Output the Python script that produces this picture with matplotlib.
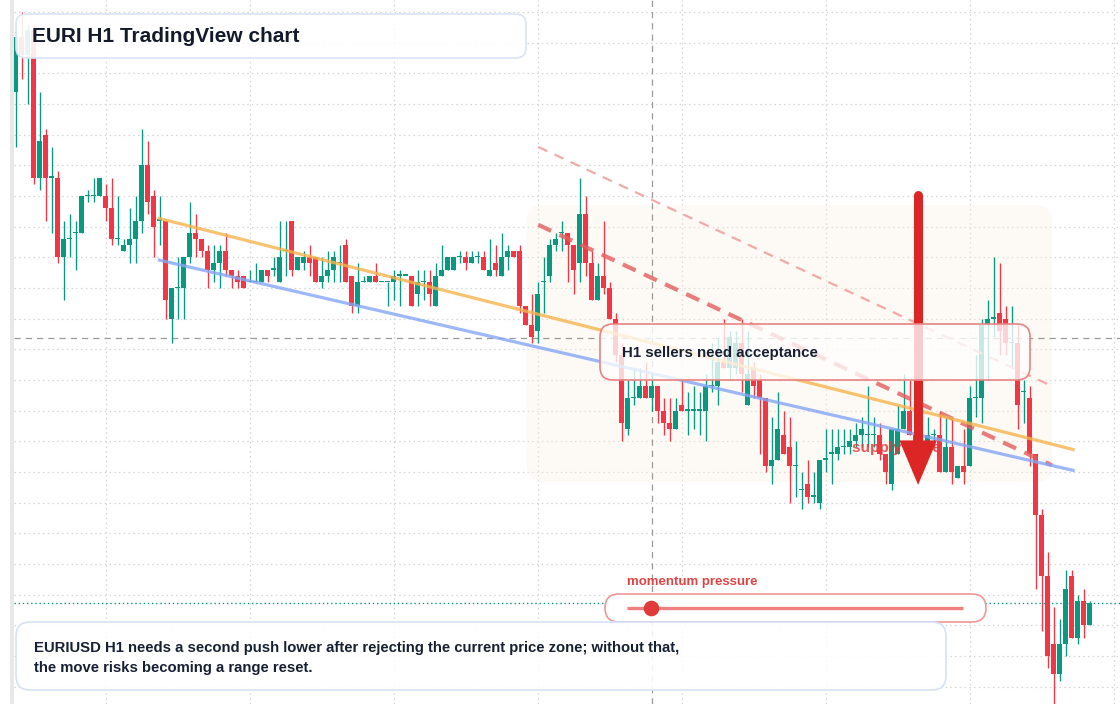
import numpy as np
import matplotlib
matplotlib.use('Agg')
import matplotlib.pyplot as plt
from matplotlib.patches import FancyBboxPatch, Rectangle

plt.rcParams['font.family'] = ['Liberation Sans', 'DejaVu Sans']

# --- EURI H1 candles ---
opens = [
    1.0887, 1.0896, 1.0893, 1.0897, 1.0873, 1.0880, 1.0873, 1.0873, 1.0860, 1.0863,
    1.0864, 1.0864, 1.0870, 1.0870, 1.0870, 1.0870, 1.0868, 1.0863, 1.0861, 1.0862,
    1.0863, 1.0866, 1.0875, 1.0870, 1.0866, 1.0866, 1.0850, 1.0855, 1.0855, 1.0860,
    1.0864, 1.0863, 1.0861, 1.0858, 1.0859, 1.0861, 1.0858, 1.0857, 1.0857, 1.0856,
    1.0856, 1.0856, 1.0858, 1.0858, 1.0856, 1.0861, 1.0866, 1.0858, 1.0859, 1.0860,
    1.0860, 1.0856, 1.0857, 1.0858, 1.0859, 1.0862, 1.0857, 1.0852, 1.0856, 1.0856,
    1.0857, 1.0856, 1.0856, 1.0856, 1.0857, 1.0857, 1.0857, 1.0854, 1.0856, 1.0856,
    1.0852, 1.0857, 1.0858, 1.0858, 1.0860, 1.0860, 1.0859, 1.0860, 1.0860, 1.0857,
    1.0859, 1.0857, 1.0860, 1.0861, 1.0861, 1.0852, 1.0849, 1.0848, 1.0856, 1.0857,
    1.0862, 1.0864, 1.0864, 1.0862, 1.0859, 1.0867, 1.0859, 1.0853, 1.0857, 1.0855,
    1.0850, 1.0844, 1.0832, 1.0837, 1.0837, 1.0839, 1.0837, 1.0839, 1.0835, 1.0833,
    1.0832, 1.0836, 1.0835, 1.0835, 1.0835, 1.0835, 1.0839, 1.0839, 1.0843, 1.0842,
    1.0842, 1.0846, 1.0836, 1.0842, 1.0840, 1.0837, 1.0826, 1.0827, 1.0831, 1.0829,
    1.0826, 1.0822, 1.0823, 1.0821, 1.0820, 1.0827, 1.0828, 1.0828, 1.0829, 1.0829,
    1.0830, 1.0831, 1.0831, 1.0831, 1.0831, 1.0828, 1.0823, 1.0828, 1.0832, 1.0835,
    1.0831, 1.0829, 1.0830, 1.0831, 1.0831, 1.0825, 1.0829, 1.0824, 1.0826, 1.0826,
    1.0837, 1.0837, 1.0849, 1.0850, 1.0851, 1.0850, 1.0846, 1.0846, 1.0838, 1.0837,
    1.0828, 1.0818, 1.0808, 1.0797, 1.0792, 1.0797, 1.0808, 1.0798, 1.0804, 1.0800,
]
highs = [
    1.0897, 1.0900, 1.0898, 1.0898, 1.0887, 1.0881, 1.0878, 1.0874, 1.0866, 1.0867,
    1.0866, 1.0870, 1.0871, 1.0873, 1.0873, 1.0872, 1.0873, 1.0870, 1.0863, 1.0868,
    1.0870, 1.0881, 1.0879, 1.0871, 1.0870, 1.0866, 1.0855, 1.0860, 1.0860, 1.0869,
    1.0867, 1.0863, 1.0862, 1.0862, 1.0862, 1.0864, 1.0858, 1.0858, 1.0857, 1.0858,
    1.0859, 1.0858, 1.0858, 1.0860, 1.0866, 1.0866, 1.0866, 1.0860, 1.0861, 1.0862,
    1.0860, 1.0860, 1.0861, 1.0861, 1.0862, 1.0863, 1.0857, 1.0859, 1.0857, 1.0857,
    1.0859, 1.0856, 1.0856, 1.0858, 1.0858, 1.0857, 1.0857, 1.0858, 1.0858, 1.0858,
    1.0859, 1.0862, 1.0860, 1.0860, 1.0861, 1.0861, 1.0861, 1.0861, 1.0861, 1.0863,
    1.0862, 1.0864, 1.0862, 1.0861, 1.0862, 1.0852, 1.0854, 1.0856, 1.0860, 1.0863,
    1.0864, 1.0866, 1.0864, 1.0862, 1.0873, 1.0870, 1.0861, 1.0859, 1.0866, 1.0856,
    1.0851, 1.0846, 1.0840, 1.0842, 1.0842, 1.0843, 1.0841, 1.0839, 1.0837, 1.0837,
    1.0837, 1.0840, 1.0838, 1.0839, 1.0838, 1.0841, 1.0846, 1.0847, 1.0850, 1.0848,
    1.0848, 1.0850, 1.0848, 1.0843, 1.0841, 1.0837, 1.0834, 1.0838, 1.0835, 1.0834,
    1.0830, 1.0825, 1.0827, 1.0825, 1.0827, 1.0832, 1.0832, 1.0832, 1.0832, 1.0832,
    1.0833, 1.0834, 1.0839, 1.0834, 1.0833, 1.0828, 1.0832, 1.0836, 1.0841, 1.0840,
    1.0832, 1.0831, 1.0834, 1.0832, 1.0835, 1.0834, 1.0834, 1.0826, 1.0832, 1.0839,
    1.0844, 1.0850, 1.0853, 1.0860, 1.0859, 1.0852, 1.0852, 1.0849, 1.0840, 1.0839,
    1.0828, 1.0819, 1.0812, 1.0803, 1.0801, 1.0809, 1.0809, 1.0805, 1.0806, 1.0804,
]
lows = [
    1.0878, 1.0889, 1.0885, 1.0872, 1.0871, 1.0866, 1.0864, 1.0859, 1.0853, 1.0860,
    1.0858, 1.0864, 1.0869, 1.0869, 1.0870, 1.0866, 1.0862, 1.0862, 1.0861, 1.0859,
    1.0859, 1.0864, 1.0867, 1.0860, 1.0862, 1.0850, 1.0846, 1.0850, 1.0850, 1.0859,
    1.0860, 1.0860, 1.0855, 1.0856, 1.0855, 1.0857, 1.0855, 1.0855, 1.0855, 1.0856,
    1.0856, 1.0856, 1.0856, 1.0857, 1.0856, 1.0857, 1.0857, 1.0858, 1.0858, 1.0857,
    1.0856, 1.0855, 1.0856, 1.0856, 1.0856, 1.0856, 1.0851, 1.0851, 1.0856, 1.0856,
    1.0856, 1.0856, 1.0852, 1.0853, 1.0852, 1.0857, 1.0852, 1.0852, 1.0853, 1.0852,
    1.0852, 1.0857, 1.0858, 1.0858, 1.0859, 1.0858, 1.0859, 1.0859, 1.0858, 1.0857,
    1.0857, 1.0857, 1.0858, 1.0860, 1.0851, 1.0849, 1.0846, 1.0846, 1.0851, 1.0856,
    1.0861, 1.0861, 1.0856, 1.0854, 1.0856, 1.0857, 1.0853, 1.0853, 1.0854, 1.0850,
    1.0843, 1.0830, 1.0831, 1.0836, 1.0837, 1.0837, 1.0835, 1.0833, 1.0831, 1.0830,
    1.0832, 1.0835, 1.0831, 1.0832, 1.0831, 1.0830, 1.0838, 1.0836, 1.0842, 1.0840,
    1.0841, 1.0838, 1.0836, 1.0837, 1.0828, 1.0825, 1.0823, 1.0827, 1.0828, 1.0820,
    1.0821, 1.0819, 1.0820, 1.0820, 1.0819, 1.0825, 1.0823, 1.0827, 1.0828, 1.0828,
    1.0829, 1.0829, 1.0829, 1.0829, 1.0827, 1.0823, 1.0822, 1.0828, 1.0832, 1.0831,
    1.0828, 1.0828, 1.0830, 1.0829, 1.0825, 1.0825, 1.0823, 1.0824, 1.0823, 1.0826,
    1.0834, 1.0833, 1.0840, 1.0847, 1.0844, 1.0844, 1.0842, 1.0832, 1.0833, 1.0826,
    1.0806, 1.0799, 1.0793, 1.0787, 1.0791, 1.0795, 1.0798, 1.0797, 1.0798, 1.0800,
]
closes = [
    1.0896, 1.0893, 1.0897, 1.0873, 1.0879, 1.0873, 1.0873, 1.0860, 1.0863, 1.0863,
    1.0864, 1.0870, 1.0870, 1.0870, 1.0873, 1.0868, 1.0863, 1.0863, 1.0862, 1.0863,
    1.0866, 1.0875, 1.0869, 1.0865, 1.0866, 1.0853, 1.0855, 1.0855, 1.0860, 1.0864,
    1.0863, 1.0861, 1.0858, 1.0859, 1.0861, 1.0858, 1.0857, 1.0856, 1.0855, 1.0856,
    1.0856, 1.0858, 1.0857, 1.0858, 1.0860, 1.0861, 1.0858, 1.0860, 1.0860, 1.0859,
    1.0856, 1.0857, 1.0858, 1.0860, 1.0859, 1.0856, 1.0852, 1.0856, 1.0856, 1.0857,
    1.0856, 1.0856, 1.0856, 1.0857, 1.0857, 1.0857, 1.0852, 1.0856, 1.0856, 1.0854,
    1.0857, 1.0858, 1.0860, 1.0860, 1.0860, 1.0859, 1.0860, 1.0860, 1.0858, 1.0858,
    1.0858, 1.0860, 1.0861, 1.0860, 1.0852, 1.0849, 1.0847, 1.0854, 1.0856, 1.0862,
    1.0863, 1.0864, 1.0862, 1.0858, 1.0867, 1.0859, 1.0853, 1.0857, 1.0855, 1.0850,
    1.0844, 1.0833, 1.0837, 1.0837, 1.0839, 1.0837, 1.0839, 1.0835, 1.0833, 1.0832,
    1.0835, 1.0835, 1.0835, 1.0835, 1.0835, 1.0839, 1.0839, 1.0843, 1.0842, 1.0847,
    1.0846, 1.0841, 1.0841, 1.0839, 1.0837, 1.0826, 1.0827, 1.0832, 1.0828, 1.0826,
    1.0826, 1.0822, 1.0821, 1.0821, 1.0827, 1.0827, 1.0828, 1.0829, 1.0829, 1.0830,
    1.0831, 1.0832, 1.0831, 1.0831, 1.0828, 1.0825, 1.0832, 1.0832, 1.0835, 1.0831,
    1.0829, 1.0830, 1.0831, 1.0831, 1.0825, 1.0829, 1.0825, 1.0826, 1.0825, 1.0837,
    1.0837, 1.0849, 1.0850, 1.0850, 1.0848, 1.0846, 1.0846, 1.0836, 1.0838, 1.0828,
    1.0818, 1.0808, 1.0795, 1.0792, 1.0797, 1.0806, 1.0798, 1.0804, 1.0800, 1.08036,
]

# drawings (candle index, price)
orange_x = [23.7, 176.5]
orange_y = [1.08664, 1.08286]
blue_x = [23.7, 176.5]
blue_y = [1.08596, 1.08252]
red_dash_x = [87.1, 172.7]
red_dash_y = [1.08653, 1.08261]
red_thin_x = [87.1, 172.7]
red_thin_y = [1.08780, 1.08390]
zone_x = [85.2, 172.7]
zone_y = [1.08234, 1.08685]
arrow_x = 150.4
arrow_top = 1.08702
arrow_tip = 1.08229
supply_label_x = 139.4
supply_label_y = 1.08289
cross_x = 106
cross_y = 1.08468
momentum_value = 0.07

GREEN = '#089981'
RED = '#f23645'

fig = plt.figure(figsize=(11.2, 7.04), dpi=100)
fig.patch.set_facecolor('white')

ax = fig.add_axes([14 / 1120, 0, 1106 / 1120, 1])
ylo, yhi = 1.078717, 1.090196
ax.set_xlim(-0.28, 184.05)
ax.set_ylim(ylo, yhi)
px_x = 184.33 / 1106
px_y = (yhi - ylo) / 704

o = np.array(opens)
h = np.array(highs)
l = np.array(lows)
c = np.array(closes)
x = np.arange(len(o))
cols = np.where(c >= o, GREEN, RED)

# grid
ax.set_xticks([15, 39, 63, 87, 111, 135, 159, 183])
ax.set_yticks(np.arange(1.0790, 1.0901, 0.0005))
ax.grid(True, color='#d4d4d4', lw=0.9, linestyle=(0, (1.2, 2.6)))
ax.tick_params(length=0, labelbottom=False, labelleft=False)
for s in ax.spines.values():
    s.set_visible(False)
ax.set_axisbelow(True)

# supply zone
zone = FancyBboxPatch((zone_x[0], zone_y[0]), zone_x[1] - zone_x[0], zone_y[1] - zone_y[0],
                      boxstyle='round,pad=0,rounding_size=2.7', mutation_aspect=px_y / px_x,
                      fc='#fbeee2', ec='none', alpha=0.35, zorder=1)
ax.add_patch(zone)

# candles
ax.vlines(x, l, h, colors=cols, lw=0.95, zorder=3)
body_h = np.maximum(np.abs(c - o), 1.3 * px_y)
ax.bar(x, body_h, bottom=np.minimum(o, c), width=0.8, color=cols, lw=0, zorder=4)

# crosshair and last price
ax.axvline(cross_x, color='#9a9a9a', lw=0.9, dashes=(5, 4), zorder=2)
ax.axhline(cross_y, color='#9a9a9a', lw=0.9, dashes=(5, 4), zorder=2)
ax.axhline(c[-1], color=GREEN, lw=1.0, linestyle=(0, (1, 2)), zorder=2)

# trend lines
ax.plot(red_thin_x, red_thin_y, color='#f2a0a0', lw=1.6, dashes=(4.5, 3.5), alpha=0.9, zorder=5)
ax.plot(red_dash_x, red_dash_y, color='#e35d5d', lw=3.0, dashes=(3.4, 2.2), alpha=0.8, zorder=5)
ax.plot(orange_x, orange_y, color='#f6b44c', lw=2.3, alpha=0.8, solid_capstyle='butt', zorder=5)
ax.plot(blue_x, blue_y, color='#84a6f6', lw=2.3, alpha=0.8, solid_capstyle='butt', zorder=5)

ax.text(supply_label_x, supply_label_y, 'supply zone', color='#e23b3b', alpha=0.85,
        fontsize=11, fontweight='bold', va='center', ha='left', zorder=6)

# big arrow
head_base = arrow_tip + 45 * px_y
ax.plot([arrow_x, arrow_x], [arrow_top, head_base], color='#dc2626', lw=6.5,
        solid_capstyle='round', zorder=7)
ax.annotate('', xy=(arrow_x, arrow_tip), xytext=(arrow_x, head_base + 2 * px_y),
            arrowprops=dict(arrowstyle='simple,head_length=3.2,head_width=2.7,tail_width=0.65',
                            mutation_scale=10, fc='#dc2626', ec='none',
                            shrinkA=0, shrinkB=0), zorder=7)

# overlay for boxes and texts (pixel coordinates)
ov = fig.add_axes([0, 0, 1, 1])
ov.set_xlim(0, 1120)
ov.set_ylim(704, 0)
ov.axis('off')
ov.patch.set_alpha(0)

ov.add_patch(Rectangle((10, 0), 4, 704, fc='#e8e8e8', ec='none'))

ov.add_patch(FancyBboxPatch((16, 14), 510, 44, boxstyle='round,pad=0,rounding_size=10',
                            fc=(1, 1, 1, 0.9), ec='#d9e4f6', lw=1.2))
ov.text(32, 36, 'EURI H1 TradingView chart', fontsize=15, fontweight='bold',
        color='#131b2b', va='center', ha='left')

ov.add_patch(FancyBboxPatch((600, 324), 430, 56, boxstyle='round,pad=0,rounding_size=13',
                            fc=(1, 1, 1, 0.78), ec='#e98282', lw=1.2))
ov.text(622, 353, 'H1 sellers need acceptance', fontsize=10.8, fontweight='bold',
        color='#172033', va='center', ha='left')

ov.add_patch(FancyBboxPatch((605, 594), 381, 28, boxstyle='round,pad=0,rounding_size=14',
                            fc='white', ec='#f09797', lw=1.2))
ov.plot([627, 963], [608, 608], color='#ee8080', lw=2.4, solid_capstyle='butt')
ov.scatter([627 + momentum_value * (963 - 627)], [608], s=105, color='#e03a3a', zorder=5)
ov.text(627, 582, 'momentum pressure', fontsize=9.5, fontweight='bold',
        color='#e04343', va='center', ha='left')

ov.add_patch(FancyBboxPatch((16, 622), 930, 68, boxstyle='round,pad=0,rounding_size=14',
                            fc=(1, 1, 1, 0.9), ec='#d5e1f5', lw=1.2))
ov.text(34, 648, 'EURIUSD H1 needs a second push lower after rejecting the current price zone; without that,',
        fontsize=10.75, fontweight='bold', color='#172033', va='center', ha='left')
ov.text(34, 668, 'the move risks becoming a range reset.',
        fontsize=10.75, fontweight='bold', color='#172033', va='center', ha='left')

fig.savefig('out.png', dpi=100, facecolor='white')
